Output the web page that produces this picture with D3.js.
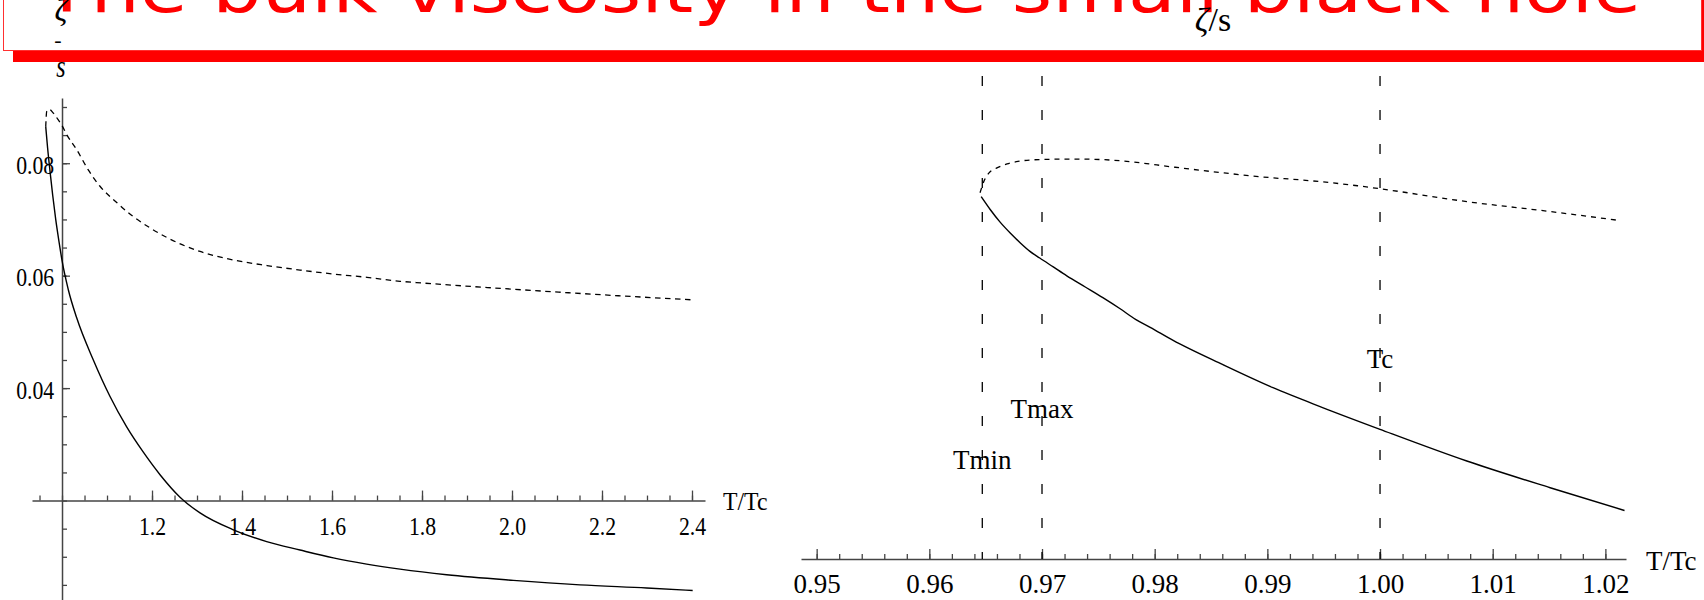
<!DOCTYPE html>
<html>
<head>
<meta charset="utf-8">
<script src="https://cdn.jsdelivr.net/npm/d3@7"></script>
<style>
  body { margin: 0; background: #fff; }
  svg { display: block; }
</style>
</head>
<body>
<svg id="chart" width="1704" height="600"></svg>
<script>
// ---------------- data ----------------
const titleText = "The bulk viscosity in the small black hole";

// Left panel: ζ/s against T/Tc over the wide range
const leftSolidT = [0.9638, 0.9680, 0.9733, 0.9793, 0.9860, 0.9940, 1.0000, 1.0140, 1.0326, 1.0696, 1.1067, 1.1437, 1.1807, 1.2178, 1.2622, 1.3067, 1.3807, 1.4548, 1.5289, 1.6029, 1.6770, 1.7511, 1.8548, 2.0029, 2.1511, 2.2993, 2.4015];
const leftSolidV = [0.0865, 0.0827, 0.0786, 0.0743, 0.0700, 0.0657, 0.0627, 0.0575, 0.0525, 0.0450, 0.0385, 0.0331, 0.0286, 0.0246, 0.0206, 0.0178, 0.0148, 0.0127, 0.0112, 0.0098, 0.0087, 0.0078, 0.0068, 0.0058, 0.0050, 0.00445, 0.0040];
const leftDashT  = [0.9638, 0.9660, 0.9718, 0.9807, 0.9918, 0.9993, 1.0104, 1.0327, 1.0584, 1.0844, 1.1216, 1.1584, 1.1956, 1.2327, 1.3067, 1.3800, 1.4556, 1.5289, 1.6022, 1.6778, 1.7511, 1.8000, 2.0000, 2.2000, 2.4000];
const leftDashV  = [0.0865, 0.0892, 0.0896, 0.0889, 0.0877, 0.0868, 0.0851, 0.0824, 0.0788, 0.0759, 0.0730, 0.0705, 0.0685, 0.0668, 0.0643, 0.0628, 0.0618, 0.0610, 0.0603, 0.0597, 0.0590, 0.0587, 0.0576, 0.0566, 0.0557];
const leftXDomain = [0.9333, 2.4289];
const leftYDomain = [0.0016, 0.0916];
const leftOrigin = [1.0, 0.02];
const leftXTicks = [1.2, 1.4, 1.6, 1.8, 2.0, 2.2, 2.4];
const leftYTicks = [0.04, 0.06, 0.08];

// Right panel: close-up around Tc
const rightSolidT = [0.9646, 0.9654, 0.9663, 0.9672, 0.9681, 0.9689, 0.9698, 0.9710, 0.9722, 0.9738, 0.9754, 0.9769, 0.9783, 0.9796, 0.9816, 0.9861, 0.9905, 0.9949, 1.0000, 1.0077, 1.0151, 1.0217];
const rightSolidV = [0.0866, 0.0853, 0.0840, 0.0829, 0.0819, 0.0811, 0.0804, 0.0795, 0.0786, 0.0775, 0.0764, 0.0753, 0.0742, 0.0734, 0.0721, 0.0696, 0.0673, 0.0653, 0.0631, 0.0599, 0.0572, 0.0549];
const rightDashT  = [0.9645, 0.9649, 0.9653, 0.9660, 0.9669, 0.9681, 0.9698, 0.9728, 0.9752, 0.9772, 0.9816, 0.9861, 0.9905, 0.9929, 0.9980, 1.0000, 1.0077, 1.0151, 1.0212];
const rightDashV  = [0.0870, 0.0883, 0.0890, 0.0895, 0.0899, 0.0902, 0.09035, 0.0904, 0.09035, 0.0902, 0.0896, 0.0890, 0.0885, 0.0883, 0.0877, 0.0874, 0.0861, 0.0851, 0.0842];
const rightXDomain = [0.94861, 1.02183];
const rightYDomain = [0.05, 0.09];
const rightXTicks = [0.95, 0.96, 0.97, 0.98, 0.99, 1.00, 1.01, 1.02];

// Reference temperatures marked with vertical dashed lines
const markerNames  = ["Tmin", "Tmax", "Tc"];
const markerT      = [0.9647, 0.97, 1.0];
const markerLabelV = [0.0591, 0.0642, 0.0693];
const markerTopV   = 0.0988;

// ---------------- drawing ----------------
const svg = d3.select("#chart");
const serif = "'Liberation Serif','Times New Roman',serif";
const ink = "#000";
const axisInk = "#444";

// Slide title banner with offset shadow
svg.append("rect")
  .attr("x", 13).attr("y", -88).attr("width", 1699).attr("height", 150)
  .attr("fill", "#ff0000");
svg.append("rect")
  .attr("x", 3.5).attr("y", -100).attr("width", 1698).attr("height", 150.5)
  .attr("fill", "#fff").attr("stroke", "#ff3030").attr("stroke-width", 1);
svg.append("text")
  .attr("x", 43).attr("y", 12)
  .attr("font-family", "'DejaVu Sans',sans-serif")
  .attr("font-size", 66)
  .attr("fill", "#ff0000")
  .attr("textLength", 1598).attr("lengthAdjust", "spacingAndGlyphs")
  .text(titleText);

function styleAxis(g, fontSize) {
  g.attr("color", axisInk)
   .attr("font-family", serif)
   .attr("font-size", fontSize);
  g.selectAll("line").attr("stroke-width", 1.3);
  g.selectAll("path.domain").attr("stroke-width", 1.5);
  g.selectAll("text").attr("fill", ink);
}

// ===== Left panel =====
const lx = d3.scaleLinear().domain(leftXDomain).range([32, 705]);
const ly = d3.scaleLinear().domain(leftYDomain).range([604, 98]);
const leftXMinor = d3.range(19, 49).map(i => +(i * 0.05).toFixed(2));
const leftYMinor = d3.range(1, 19).map(i => +(i * 0.005).toFixed(3));

const lxMinor = svg.append("g").attr("transform", `translate(0,${ly(leftOrigin[1])})`)
  .call(d3.axisBottom(lx).tickValues(leftXMinor).tickSizeInner(-5).tickSizeOuter(0).tickFormat(""));
styleAxis(lxMinor, 25);
const lxMajor = svg.append("g").attr("transform", `translate(0,${ly(leftOrigin[1])})`)
  .call(d3.axisBottom(lx).tickValues(leftXTicks).tickSizeInner(-10).tickSizeOuter(0)
        .tickPadding(16.5).tickFormat(d3.format(".1f")))
  .call(g => g.select(".domain").remove());
styleAxis(lxMajor, 25);
lxMajor.selectAll("text").attr("transform", "scale(0.87,1)");

const lyMinor = svg.append("g").attr("transform", `translate(${lx(leftOrigin[0])},0)`)
  .call(d3.axisLeft(ly).tickValues(leftYMinor).tickSizeInner(-5).tickSizeOuter(0).tickFormat(""));
styleAxis(lyMinor, 25);
const lyMajor = svg.append("g").attr("transform", `translate(${lx(leftOrigin[0])},0)`)
  .call(d3.axisLeft(ly).tickValues(leftYTicks).tickSizeInner(-8).tickSizeOuter(0)
        .tickPadding(9).tickFormat(d3.format(".2f")))
  .call(g => g.select(".domain").remove());
styleAxis(lyMajor, 25);
lyMajor.selectAll("text").attr("dy", "0.4em").attr("transform", "scale(0.87,1)");

// axis labels
svg.append("text")
  .attr("transform", "translate(723,510) scale(0.95,1)")
  .attr("font-family", serif).attr("font-size", 25).attr("fill", ink)
  .text("T/Tc");
const yLab = svg.append("g").attr("font-family", serif).attr("fill", ink).attr("text-anchor", "middle");
yLab.append("text").attr("x", 61).attr("y", 21).attr("font-size", 32).attr("font-style", "italic").text("ζ");
yLab.append("text").attr("x", 58).attr("y", 47).attr("font-size", 22).text("-");
yLab.append("text").attr("transform", "translate(61,77) scale(1,1.3)")
  .attr("font-size", 24).attr("font-style", "italic").text("s");

const lLine = d3.line().x(d => lx(d[0])).y(d => ly(d[1])).curve(d3.curveMonotoneX);
svg.append("path").datum(d3.zip(leftSolidT, leftSolidV))
  .attr("d", lLine).attr("fill", "none").attr("stroke", ink).attr("stroke-width", 1.4);
svg.append("path").datum(d3.zip(leftDashT, leftDashV))
  .attr("d", lLine).attr("fill", "none").attr("stroke", ink).attr("stroke-width", 1.3)
  .attr("stroke-dasharray", "5.5,4.5");

// ===== Right panel =====
const rx = d3.scaleLinear().domain(rightXDomain).range([801, 1626]);
const ry = d3.scaleLinear().domain(rightYDomain).range([559, 163]);
const rightXMinor = d3.range(475, 511).map(i => +(i * 0.002).toFixed(3));

const rxMinor = svg.append("g").attr("transform", `translate(0,${ry(rightYDomain[0])})`)
  .call(d3.axisBottom(rx).tickValues(rightXMinor).tickSizeInner(-5).tickSizeOuter(0).tickFormat(""));
styleAxis(rxMinor, 27);
const rxMajor = svg.append("g").attr("transform", `translate(0,${ry(rightYDomain[0])})`)
  .call(d3.axisBottom(rx).tickValues(rightXTicks).tickSizeInner(-10).tickSizeOuter(0)
        .tickPadding(15).tickFormat(d3.format(".2f")))
  .call(g => g.select(".domain").remove());
styleAxis(rxMajor, 27);

svg.append("text")
  .attr("x", 1646).attr("y", 570)
  .attr("font-family", serif).attr("font-size", 27).attr("fill", ink)
  .text("T/Tc");

const rTitle = svg.append("text")
  .attr("x", 1213).attr("y", 31).attr("text-anchor", "middle")
  .attr("font-family", serif).attr("font-size", 34).attr("fill", ink);
rTitle.append("tspan").attr("font-style", "italic").text("ζ");
rTitle.append("tspan").text("/s");

// vertical reference lines and their names
const markers = d3.zip(markerNames, markerT, markerLabelV);
svg.append("g").selectAll("line").data(markers).join("line")
  .attr("x1", d => rx(d[1])).attr("x2", d => rx(d[1]))
  .attr("y1", ry(markerTopV)).attr("y2", ry(rightYDomain[0]))
  .attr("stroke", ink).attr("stroke-width", 1.3).attr("stroke-dasharray", "10,24");
svg.append("g").selectAll("text").data(markers).join("text")
  .attr("x", d => rx(d[1])).attr("y", d => ry(d[2]))
  .attr("text-anchor", "middle")
  .attr("font-family", serif).attr("font-size", 27).attr("fill", ink)
  .text(d => d[0]);

const rLine = d3.line().x(d => rx(d[0])).y(d => ry(d[1])).curve(d3.curveMonotoneX);
svg.append("path").datum(d3.zip(rightSolidT, rightSolidV))
  .attr("d", rLine).attr("fill", "none").attr("stroke", ink).attr("stroke-width", 1.4);
svg.append("path").datum(d3.zip(rightDashT, rightDashV))
  .attr("d", rLine).attr("fill", "none").attr("stroke", ink).attr("stroke-width", 1.3)
  .attr("stroke-dasharray", "5,5");
</script>
</body>
</html>
